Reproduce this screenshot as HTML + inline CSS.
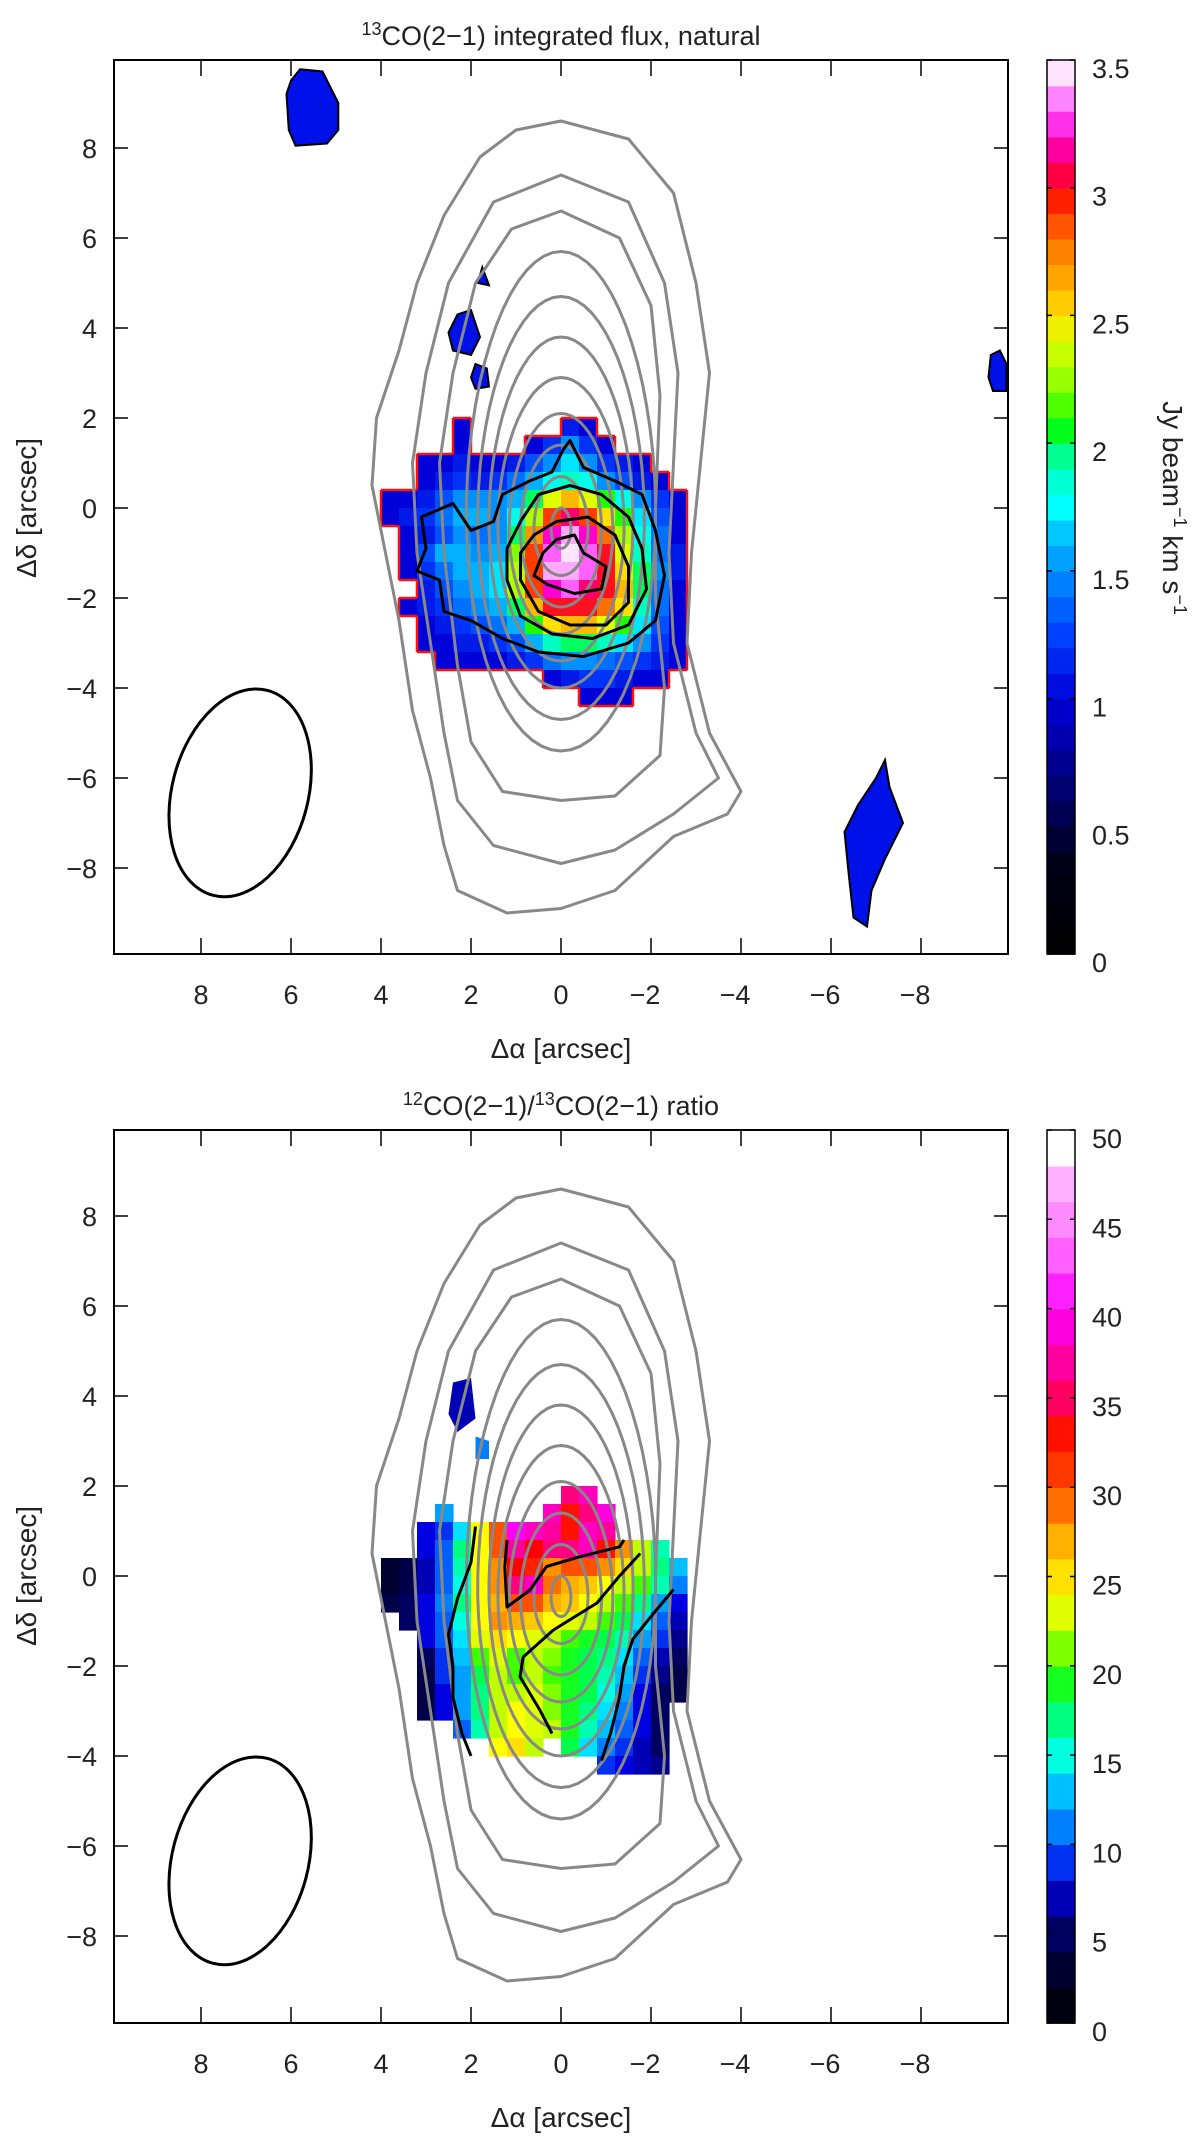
<!DOCTYPE html>
<html><head><meta charset="utf-8"><style>
html,body{margin:0;padding:0;background:#fff;}
svg{display:block;font-family:"Liberation Sans",sans-serif;}
</style></head><body>
<svg id="fig" width="1200" height="2136" viewBox="0 0 1200 2136" xmlns="http://www.w3.org/2000/svg">
<g id="p1"></g>
<g id="p2"></g>
</svg>
<script>
// ---------- data ----------
const xTicks = [8,6,4,2,0,-2,-4,-6,-8];
const yTicks = [8,6,4,2,0,-2,-4,-6,-8];
const cb1Ticks = [0,0.5,1,1.5,2,2.5,3,3.5];
const cb1Labels = ["0","0.5","1","1.5","2","2.5","3","3.5"];
const cb2Ticks = [0,5,10,15,20,25,30,35,40,45,50];
const cb2Labels = ["0","5","10","15","20","25","30","35","40","45","50"];
const gridX = [3.8,3.4,3.0,2.6,2.2,1.8,1.4,1.0,0.6,0.2,-0.2,-0.6,-1.0,-1.4,-1.8,-2.2,-2.6];
const gridY = [1.8,1.4,1.0,0.6,0.2,-0.2,-0.6,-1.0,-1.4,-1.8,-2.2,-2.6,-3.0,-3.4,-3.8,-4.2];
const fluxRows = [
"0 0 0 0 1.0 0 0 0 0 0 1.1 1.0 0 0 0 0 0",
"0 0 0 0 1.0 0 0 0 1.0 1.2 1.5 1.2 1.0 0 0 0 0",
"0 0 1.0 1.0 1.1 1.0 1.0 1.1 1.3 1.5 1.7 1.5 1.2 1.1 1.0 0 0",
"0 0 1.0 1.1 1.2 1.1 1.2 1.4 1.6 1.8 1.9 1.8 1.5 1.3 1.1 1.0 0",
"1.0 1.0 1.1 1.3 1.5 1.5 1.5 1.6 2.0 2.4 2.6 2.4 2.1 1.8 1.5 1.2 1.0",
"1.0 1.1 1.2 1.4 1.6 1.6 1.5 1.8 2.3 2.9 3.1 2.9 2.5 2.1 1.7 1.3 1.0",
"0 1.0 1.1 1.3 1.5 1.4 1.5 2.0 2.7 3.2 3.4 3.2 2.8 2.3 1.8 1.4 1.0",
"0 1.0 1.3 1.6 1.6 1.5 1.6 2.2 2.9 3.3 3.45 3.3 3.0 2.4 1.9 1.4 1.1",
"0 1.0 1.2 1.4 1.6 1.6 1.7 2.3 2.9 3.4 3.4 3.3 3.0 2.5 2.0 1.5 1.1",
"0 0 1.1 1.3 1.5 1.6 1.7 2.3 2.9 3.2 3.3 3.1 3.0 2.6 2.0 1.4 1.0",
"0 1.0 1.1 1.2 1.4 1.5 1.6 2.0 2.6 3.0 3.0 3.0 2.8 2.5 1.9 1.4 1.0",
"0 0 1.0 1.1 1.2 1.3 1.4 1.6 2.1 2.5 2.6 2.6 2.4 2.1 1.7 1.3 1.0",
"0 0 1.0 1.0 1.1 1.1 1.2 1.3 1.6 1.9 2.0 2.0 1.9 1.7 1.5 1.2 1.0",
"0 0 0 1.0 1.0 1.0 1.0 1.1 1.2 1.4 1.5 1.5 1.4 1.3 1.2 1.1 1.0",
"0 0 0 0 0 0 0 0 0 1.0 1.1 1.2 1.2 1.1 1.0 1.0 0",
"0 0 0 0 0 0 0 0 0 0 0 1.0 1.0 1.0 0 0 0"];
const ratioRows = [
"0 0 0 0 0 0 0 0 0 0 36 38 0 0 0 0 0",
"0 0 0 12 0 0 0 0 0 38 33 36 39 0 0 0 0",
"0 0 8 9 14 24 30 40 38 37 33 38 37 0 0 0 0",
"0 0 8 10 17 24 30 37 34 36 36 38 33 28 22 16 0",
"3 4 7 10 16 24 28 34 32 28 30 30 28 25 22 17 13",
"3 4 7 10 15 24 28 36 38 29 27 26 24 22 20 16 11",
"4 5 8 11 17 24 27 30 30 27 26 24 22 20 17 12 8",
"0 5 8 10 15 24 28 27 26 24 23 22 20 18 14 10 7",
"0 0 8 10 14 23 25 24 23 22 20 19 18 16 12 9 6",
"0 0 5 9 13 20 23 20 22 21 19 18 17 14 10 7 5",
"0 0 4 9 12 18 22 20 22 20 19 18 16 13 9 6 4",
"0 0 4 8 12 17 22 22 23 21 19 18 15 12 8 5 4",
"0 0 4 8 12 17 22 24 23 21 19 17 14 11 8 5 0",
"0 0 0 0 10 16 22 24 23 22 19 16 13 10 8 5 0",
"0 0 0 0 0 0 24 25 22 0 18 14 11 9 7 5 0",
"0 0 0 0 0 0 0 0 0 0 0 0 9 8 7 6 0"];
// gray 12CO contours (arcsec)
const outerC1 = [[0,8.6],[-1.5,8.2],[-2.5,7],[-3.0,5],[-3.3,3],[-3.1,1],[-2.9,-1],[-2.8,-3],[-3.3,-5],[-4.0,-6.3],[-3.7,-6.8],[-2.5,-7.3],[-1.2,-8.5],[0,-8.9],[1.2,-9.0],[2.3,-8.5],[2.6,-7.5],[2.9,-6],[3.3,-4.5],[3.6,-2.5],[3.9,-1],[4.2,0.5],[4.1,2],[3.6,3.5],[3.2,5],[2.6,6.5],[1.8,7.8],[1,8.4]];
const outerC2 = [[0,7.4],[-1.5,6.8],[-2.3,5],[-2.6,3],[-2.5,1],[-2.4,-1],[-2.5,-3],[-3.0,-5],[-3.5,-6],[-2.5,-6.8],[-1.2,-7.6],[0,-7.9],[1.5,-7.5],[2.3,-6.5],[2.6,-5],[2.9,-3],[3.2,-1],[3.3,1],[3.0,3],[2.5,5],[1.5,6.8]];
const outerC3 = [[0,6.6],[-1.3,6],[-2.0,4.5],[-2.2,2.5],[-2.1,0],[-2.1,-2],[-2.3,-4],[-2.2,-5.5],[-1.2,-6.4],[0,-6.5],[1.3,-6.3],[2.0,-5.2],[2.3,-3.5],[2.6,-1],[2.7,1],[2.4,3],[1.9,5],[1.1,6.2]];
const eggTop = [5.7,4.7,3.8,2.9,2.1,1.4,0.7,0.0];
const eggBottom = [-5.4,-4.7,-4.0,-3.4,-2.8,-2.2,-1.5,-0.9];
const eggHalfW = [2.1,1.85,1.6,1.4,1.15,0.9,0.6,0.22];
// black flux contours
const fluxC1 = [[-0.2,1.5],[-0.5,0.9],[-1.2,0.6],[-1.8,0.3],[-2.1,-0.5],[-2.3,-1.5],[-2.1,-2.5],[-1.5,-3.0],[-0.5,-3.3],[0.5,-3.2],[1.3,-2.9],[2.0,-2.5],[2.6,-2.3],[2.7,-1.6],[3.2,-1.4],[3.0,-0.9],[3.1,-0.2],[2.4,0.1],[2.0,-0.5],[1.5,-0.3],[1.3,0.3],[0.7,0.6],[0.2,0.8],[-0.05,1.3]];
const fluxC2 = [[0.9,-0.3],[0.5,0.3],[-0.2,0.5],[-0.9,0.3],[-1.5,-0.2],[-1.8,-0.9],[-1.9,-1.8],[-1.5,-2.6],[-0.7,-2.9],[0.2,-2.8],[0.9,-2.4],[1.2,-1.6],[1.2,-0.9]];
const fluxC3 = [[0.6,-0.6],[0.1,-0.3],[-0.6,-0.2],[-1.2,-0.6],[-1.5,-1.3],[-1.5,-2.1],[-1.0,-2.6],[-0.2,-2.6],[0.5,-2.3],[0.9,-1.6],[0.9,-1.0]];
const fluxC4 = [[0.1,-0.7],[-0.3,-0.6],[-0.5,-1.0],[-1.0,-1.3],[-0.9,-1.8],[-0.3,-1.9],[0.3,-1.7],[0.6,-1.5],[0.4,-1.0]];
// ratio black contour lines
const ratioL1 = [[1.9,1.1],[2.0,0.3],[2.3,-0.5],[2.5,-1.3],[2.4,-2.0],[2.4,-2.7],[2.2,-3.5],[2.0,-4.0]];
const ratioL2 = [[-1.76,0.5],[-1.3,0.0],[-0.8,-0.6],[0.17,-1.2],[0.84,-1.8],[0.91,-2.24],[0.47,-2.98],[0.2,-3.5]];
const ratioL3 = [[-2.5,-0.3],[-2.0,-0.9],[-1.6,-1.4],[-1.4,-2.0],[-1.3,-2.7],[-1.1,-3.5],[-0.9,-4.1]];
const ratioL4 = [[1.2,0.8],[1.25,0.2],[1.2,-0.69],[0.69,-0.31],[0.32,0.21],[-0.42,0.43],[-1.3,0.65],[-1.4,0.8]];
// isolated emission blobs
const blobs1 = [
 [[5.8,9.75],[5.3,9.7],[5.1,9.3],[4.95,9.0],[4.95,8.4],[5.2,8.1],[5.9,8.05],[6.05,8.4],[6.1,9.2],[6.0,9.5]],
 [[-9.55,3.4],[-9.75,3.5],[-9.9,3.2],[-9.9,2.6],[-9.6,2.6],[-9.5,2.9]],
 [[-7.2,-5.6],[-7.3,-6.2],[-7.6,-7.0],[-7.2,-7.8],[-6.9,-8.5],[-6.8,-9.3],[-6.5,-9.1],[-6.4,-8.2],[-6.3,-7.2],[-6.6,-6.6],[-7.0,-6.0]],
 [[2.3,4.3],[2.0,4.4],[1.8,3.8],[2.0,3.4],[2.4,3.5],[2.5,3.9]],
 [[1.9,3.2],[1.65,3.1],[1.6,2.7],[1.9,2.65],[2.0,2.9]],
 [[1.85,5.0],[1.75,5.35],[1.6,4.95]]];
const blobs2 = [
 [[2.4,4.3],[2.0,4.4],[1.9,3.5],[2.3,3.2],[2.5,3.6]],
 [[1.9,3.1],[1.6,3.0],[1.6,2.6],[1.9,2.6]]];
const blobs2Vals = [7,11];

// ---------- geometry ----------
const S = 45, X0 = 561, BL = 114, BR = 1008;
const panels = [{g:'p1', y0:508, top:60, bot:954}, {g:'p2', y0:1576, top:1130, bot:2023}];
const NS = 'http://www.w3.org/2000/svg';
function px(x){return X0 - S*x;}
function el(tag, attrs, parent){const e=document.createElementNS(NS,tag);for(const k in attrs)e.setAttribute(k,attrs[k]);parent.appendChild(e);return e;}
function hex(c){return [parseInt(c.slice(1,3),16),parseInt(c.slice(3,5),16),parseInt(c.slice(5,7),16)];}
function cmap(stops, v){
  if(v<=stops[0][0]) return stops[0][1];
  for(let i=1;i<stops.length;i++){ if(v<=stops[i][0]){const a=stops[i-1],b=stops[i];const t=(v-a[0])/(b[0]-a[0]);const ca=hex(a[1]),cb=hex(b[1]);return 'rgb('+ca.map((c,k)=>Math.round(c+(cb[k]-c)*t)).join(',')+')';}}
  return stops[stops.length-1][1];
}
const stops1 = [[0,'#000000'],[0.35,'#000018'],[0.6,'#000060'],[0.85,'#0000b0'],[1.0,'#0000d8'],[1.25,'#0040ff'],[1.5,'#0090ff'],[1.62,'#00b8ff'],[1.75,'#00ffff'],[1.9,'#00ffc0'],[2.0,'#00ff60'],[2.07,'#00ff00'],[2.2,'#80ff00'],[2.4,'#e0ff00'],[2.5,'#ffe000'],[2.62,'#ffb000'],[2.8,'#ff7000'],[2.95,'#ff2000'],[3.05,'#ff0040'],[3.2,'#ff00d0'],[3.3,'#ff60ff'],[3.42,'#ffb8ff'],[3.47,'#ffffff']];
const stops2 = [[0,'#000000'],[3,'#000030'],[5,'#000060'],[8,'#0000e0'],[10,'#0060ff'],[12,'#00a0ff'],[14,'#00e0ff'],[15,'#00ffe0'],[17,'#00ff80'],[18.5,'#00ff30'],[20,'#40ff00'],[22,'#c0ff00'],[24,'#ffff00'],[25,'#ffe000'],[27,'#ffb000'],[28.5,'#ff8000'],[30,'#ff5000'],[32,'#ff2000'],[34,'#ff0000'],[35,'#ff0060'],[37,'#ff00a0'],[40,'#ff00ff'],[43,'#ff60ff'],[46,'#ffa0ff'],[48,'#ffc0ff'],[49,'#ffffff']];

function ptsStr(pts, y0){return pts.map(p=>px(p[0]).toFixed(1)+','+(y0-S*p[1]).toFixed(1)).join(' ');}

function drawPanel(P, idx){
  const g = document.getElementById(P.g);
  const y = v => P.y0 - S*v;
  const rows = idx===0 ? fluxRows : ratioRows;
  const stops = idx===0 ? stops1 : stops2;
  const vals = rows.map(r=>r.trim().split(/\s+/).map(Number));
  const hm = el('g',{},g);
  
  
  vals.forEach((row,j)=>row.forEach((v,i)=>{
    if(v<=0) return;
    const r = el('rect',{x:(px(gridX[i]+0.2)).toFixed(1), y:(y(gridY[j]+0.2)).toFixed(1), width:S*0.4+0.6, height:S*0.4+0.6, fill:cmap(stops,v)}, hm);
    
    
  }));
  const blobs = idx===0 ? blobs1 : blobs2;
  blobs.forEach((b,k)=>{
    const fill = idx===0 ? '#0010e8' : cmap(stops2, blobs2Vals[k]);
    const p = el('polygon',{points:ptsStr(b,P.y0), fill:fill, stroke: idx===0?'#000':'none', 'stroke-width':2}, g);
    
    
  });
  if(idx===0){
    let d='';
    const filled=(j,i)=> j>=0&&j<vals.length&&i>=0&&i<vals[0].length&&vals[j][i]>0;
    vals.forEach((row,j)=>row.forEach((v,i)=>{
      if(v<=0) return;
      const xl=px(gridX[i]+0.2), xr=px(gridX[i]-0.2), yt=y(gridY[j]+0.2), yb=y(gridY[j]-0.2);
      if(!filled(j-1,i)) d+=`M${xl},${yt}H${xr}`;
      if(!filled(j+1,i)) d+=`M${xl},${yb}H${xr}`;
      if(!filled(j,i-1)) d+=`M${xl},${yt}V${yb}`;
      if(!filled(j,i+1)) d+=`M${xr},${yt}V${yb}`;
    }));
    const o = el('path',{d:d, stroke:'#ff1010', 'stroke-width':2.5, fill:'none'}, g);
    
    
  }
  const cg = el('g',{fill:'none', stroke:'#888', 'stroke-width':3, 'stroke-linejoin':'round'}, g);
  
  
  [outerC1,outerC2,outerC3].forEach(c=>{
    const p = el('polygon',{points:ptsStr(c,P.y0)}, cg);
    
    
  });
  eggTop.forEach((t,k)=>{
    const mid=(t+eggBottom[k])/2, hh=(t-eggBottom[k])/2;
    const pts2=[];for(let a=0;a<64;a++){const th=a/64*2*Math.PI;const c=Math.cos(th);pts2.push([eggHalfW[k]*Math.sin(th)*(1-0.05*c), mid+hh*c]);}
    const p = el('polygon',{points:ptsStr(pts2,P.y0)}, cg);
    
    
  });
  const bg = el('g',{fill:'none', stroke:'#000', 'stroke-width':3, 'stroke-linejoin':'round'}, g);
  
  
  if(idx===0){
    [fluxC1,fluxC2,fluxC3,fluxC4].forEach(c=>{
      const p = el('polygon',{points:ptsStr(c,P.y0)}, bg);
      
      
    });
  } else {
    [ratioL1,ratioL2,ratioL3,ratioL4].forEach(c=>{
      const p = el('polyline',{points:ptsStr(c,P.y0)}, bg);
      
      
    });
  }
  const bx=px(7.13), by=y(-6.33);
  const beam = el('ellipse',{cx:bx, cy:by, rx:68, ry:106, transform:`rotate(15 ${bx} ${by})`, fill:'none', stroke:'#000', 'stroke-width':3}, g);
  
  
  const fr = el('rect',{x:BL, y:P.top, width:BR-BL, height:P.bot-P.top, fill:'none', stroke:'#000', 'stroke-width':2}, g);
  
  
  let td='';
  xTicks.forEach(t=>{const X=px(t);td+=`M${X},${P.bot}v-16M${X},${P.top}v16`;});
  yTicks.forEach(t=>{const Y=y(t);td+=`M${BL},${Y}h14M${BR},${Y}h-14`;});
  const tk = el('path',{d:td, stroke:'#000','stroke-width':1.5}, g);
  
  
  xTicks.forEach(t=>{
    const tx = el('text',{x:px(t)+(t<0?-6:0), y:P.bot+50, 'font-size':27, 'text-anchor':'middle', fill:'#222'}, g);
    tx.textContent = t<0 ? '\u2212'+Math.abs(t) : String(t);
    
    
  });
  yTicks.forEach(t=>{
    const tx = el('text',{x:97, y:y(t)+10, 'font-size':27, 'text-anchor':'end', fill:'#222'}, g);
    tx.textContent = t<0 ? '\u2212'+Math.abs(t) : String(t);
    
    
  });
  const xl = el('text',{x:561, y:P.bot+104, 'font-size':28, 'text-anchor':'middle', fill:'#222'}, g);
  xl.textContent = '\u0394\u03B1  [arcsec]';
  
  
  const yl = el('text',{x:0, y:0, 'font-size':28, 'text-anchor':'middle', fill:'#222', transform:`translate(36 ${P.y0}) rotate(-90)`}, g);
  yl.textContent = '\u0394\u03B4  [arcsec]';
  
  
  const ti = el('text',{x:561, y:P.top-15, 'font-size':27, 'text-anchor':'middle', fill:'#222'}, g);
  if(idx===0){
    ti.innerHTML = '<tspan font-size="18" dy="-10">13</tspan><tspan dy="10">CO(2\u22121) integrated flux, natural</tspan>';
  } else {
    ti.innerHTML = '<tspan font-size="18" dy="-10">12</tspan><tspan dy="10">CO(2\u22121)/</tspan><tspan font-size="18" dy="-10">13</tspan><tspan dy="10">CO(2\u22121) ratio</tspan>';
  }
  
  
  const cb = el('g',{},g);
  
  
  const vmax = idx===0?3.5:50, nlev = idx===0?35:25;
  const H = P.bot-P.top;
  for(let k=0;k<nlev;k++){
    const v=(k+0.5)/nlev*vmax;
    const r = el('rect',{x:1047, y:(P.bot-(k+1)/nlev*H).toFixed(1), width:28, height:(H/nlev+0.8).toFixed(1), fill:cmap(stops,v)}, cb);
    
    
  }
  const cbf = el('rect',{x:1047, y:P.top, width:28, height:H, fill:'none', stroke:'#000', 'stroke-width':1.5}, cb);
  
  
  const ticks = idx===0?cb1Ticks:cb2Ticks, labs = idx===0?cb1Labels:cb2Labels;
  ticks.forEach((t,k)=>{
    const Y = P.bot - t/vmax*H;
    const l = el('path',{d:`M1047,${Y}h5M1075,${Y}h-5`, stroke:'#000','stroke-width':1.5}, cb);
    
    
    const tx = el('text',{x:1092, y:Y+18, 'font-size':27, fill:'#222'}, cb);
    tx.textContent = labs[k];
    
    
  });
  if(idx===0){
    const ct = el('text',{x:0,y:0,'font-size':28,'text-anchor':'middle',fill:'#222',transform:`translate(1163 ${P.y0}) rotate(90)`}, cb);
    ct.innerHTML = 'Jy beam<tspan font-size="18" dy="-11">\u22121</tspan><tspan dy="11"> km s</tspan><tspan font-size="18" dy="-11">\u22121</tspan>';
    
    
  }
}
panels.forEach(drawPanel);
</script>
</body></html>
